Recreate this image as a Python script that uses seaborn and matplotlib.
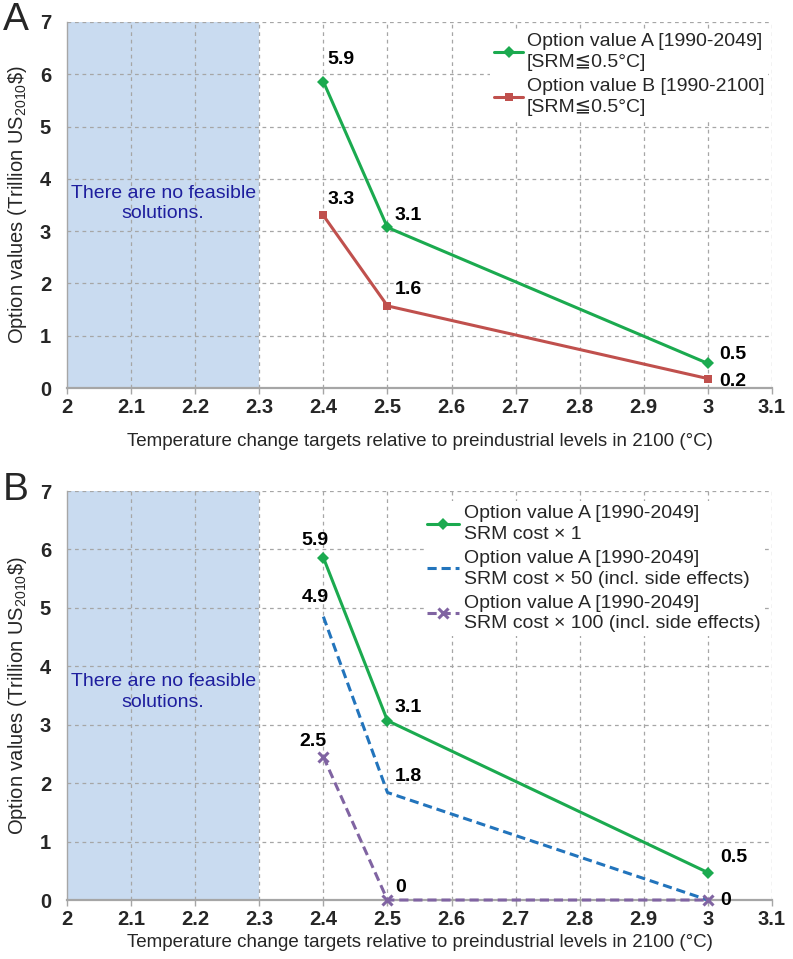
import matplotlib
matplotlib.use("Agg")
import matplotlib.pyplot as plt
import seaborn as sns

# data
temps = [2.4, 2.5, 3.0]
opt_a = [5.86, 3.07, 0.47]
opt_b = [3.30, 1.57, 0.18]
opt_a_x50 = [4.85, 1.84, 0.0]
opt_a_x100 = [2.45, 0.0, 0.0]

labels_a = ["5.9", "3.1", "0.5"]
labels_b = ["3.3", "1.6", "0.2"]
labels_x50 = ["4.9", "1.8", "0"]
labels_x100 = ["2.5", "0", "0"]

xticks = [2.0, 2.1, 2.2, 2.3, 2.4, 2.5, 2.6, 2.7, 2.8, 2.9, 3.0, 3.1]
xticklabels = ["2", "2.1", "2.2", "2.3", "2.4", "2.5", "2.6", "2.7", "2.8", "2.9", "3", "3.1"]
yticks = [0, 1, 2, 3, 4, 5, 6, 7]

sns.set_style("white")
plt.rcParams['font.family'] = ['Liberation Sans', 'DejaVu Sans']
plt.rcParams['mathtext.fontset'] = 'custom'
plt.rcParams['mathtext.rm'] = 'Liberation Sans'

GREEN = '#1BAA4F'
RED = '#C0504D'
BLUE = '#2274BC'
PURPLE = '#8064A2'
SHADE = '#C9DBF0'
GRID = '#A6A6A6'
TXTBLUE = '#1E1E9E'

fig = plt.figure(figsize=(7.93, 9.59), dpi=100)
axA = fig.add_axes([0.0845, 0.5954, 0.889, 0.3817])
axB = fig.add_axes([0.0845, 0.0615, 0.889, 0.4265])

tick_font = dict(family=['Liberation Sans Narrow', 'Liberation Sans', 'DejaVu Sans'],
                 weight='bold', size=14.5)


def style_axes(ax):
    ax.axvspan(2.0, 2.3, facecolor=SHADE, edgecolor='none', zorder=0.2, lw=0)
    ax.set_xlim(2.0, 3.1)
    ax.set_ylim(0, 7)
    ax.set_xticks(xticks)
    ax.set_xticklabels(xticklabels, **tick_font)
    ax.set_yticks(yticks)
    ax.set_yticklabels([str(v) for v in yticks], **tick_font)
    ax.grid(False)
    # dashed grid drawn at the tick positions, above the shaded band
    for x in xticks[1:]:
        ax.axvline(x, color=GRID, linestyle=(0, (3, 3)), linewidth=0.9, zorder=1.5)
    for y in yticks[1:]:
        ax.axhline(y, color=GRID, linestyle=(0, (3, 3)), linewidth=0.9, zorder=1.5)
    for s in ['top', 'right']:
        ax.spines[s].set_visible(False)
    ax.spines['left'].set_color(GRID)
    ax.spines['bottom'].set_color(GRID)
    ax.spines['bottom'].set_linewidth(1.6)
    ax.spines['left'].set_linewidth(1.0)
    ax.tick_params(axis='x', bottom=True, length=4, color=GRID, width=1, pad=3)
    ax.tick_params(axis='y', left=False, pad=8)
    ax.text(2.15, 3.88, "There are no feasible\nsolutions.", ha='center', va='top',
            color=TXTBLUE, fontsize=14, linespacing=1.25, zorder=2)
    ax.set_ylabel(r"Option values (Trillion US$_{\mathregular{2010}}$\$)", fontsize=14.5, labelpad=8)


def label_points(ax, xs, ys, texts, offsets):
    for x, y, t, (dx, dy, ha) in zip(xs, ys, texts, offsets):
        ax.annotate(t, (x, y), xytext=(dx, dy), textcoords='offset pixels',
                    ha=ha, va='center', fontsize=14, fontweight='bold', color='black')


def lift_series(ax, n_grid):
    for line in ax.get_lines()[n_grid:]:
        line.set_clip_on(False)
        line.set_zorder(3)


n_grid = len(xticks) - 1 + len(yticks) - 1

# panel A
style_axes(axA)
sns.lineplot(x=temps, y=opt_a, ax=axA, color=GREEN, marker='D', markersize=6,
             markeredgewidth=0, linewidth=2.2, label="Option value A [1990-2049]\n[SRM≦0.5°C]")
sns.lineplot(x=temps, y=opt_b, ax=axA, color=RED, marker='s', markersize=6,
             markeredgewidth=0, linewidth=2.2, label="Option value B [1990-2100]\n[SRM≦0.5°C]")
axA.set_xlabel("Temperature change targets relative to preindustrial levels in 2100 (°C)",
               fontsize=13.5, labelpad=12)
label_points(axA, temps, opt_a, labels_a, [(4, 22, 'left'), (7, 12, 'left'), (11, 9, 'left')])
label_points(axA, temps, opt_b, labels_b, [(4, 16, 'left'), (7, 16, 'left'), (11, -3, 'left')])
legA = axA.legend(loc='upper right', bbox_to_anchor=(0.995, 0.98), fontsize=14,
                  frameon=True, facecolor='white', edgecolor='none', framealpha=1,
                  handlelength=1.5, handletextpad=0.2, borderpad=0.2, labelspacing=0.35,
                  borderaxespad=0.0)
for t in legA.get_texts():
    t.set_linespacing(1.3)
lift_series(axA, n_grid)

# panel B
style_axes(axB)
sns.lineplot(x=temps, y=opt_a, ax=axB, color=GREEN, marker='D', markersize=6,
             markeredgewidth=0, linewidth=2.2, label="Option value A [1990-2049]\nSRM cost × 1")
sns.lineplot(x=temps, y=opt_a_x50, ax=axB, color=BLUE, linestyle=(0, (3, 1.6)),
             linewidth=2.2, label="Option value A [1990-2049]\nSRM cost × 50 (incl. side effects)")
sns.lineplot(x=temps, y=opt_a_x100, ax=axB, color=PURPLE, linestyle=(0, (3, 1.6)), marker='x',
             markersize=7, markeredgewidth=2.2, markeredgecolor=PURPLE, linewidth=2.2,
             label="Option value A [1990-2049]\nSRM cost × 100 (incl. side effects)")
axB.set_xlabel("Temperature change targets relative to preindustrial levels in 2100 (°C)",
               fontsize=13.5, labelpad=4)
label_points(axB, temps, opt_a, labels_a, [(-8, 17, 'center'), (7, 13, 'left'), (12, 15, 'left')])
label_points(axB, temps, opt_a_x50, labels_x50, [(-8, 19, 'center'), (7, 16, 'left'), (12, 0, 'left')])
label_points(axB, temps[:2], opt_a_x100[:2], labels_x100[:2], [(-10, 15, 'center'), (8, 13, 'left')])
legB = axB.legend(loc='upper right', bbox_to_anchor=(0.99, 0.975), fontsize=14,
                  frameon=True, facecolor='white', edgecolor='none', framealpha=1,
                  handlelength=1.6, handletextpad=0.3, borderpad=0.2, labelspacing=0.35,
                  borderaxespad=0.0)
for t in legB.get_texts():
    t.set_linespacing(1.3)
lift_series(axB, n_grid)

fig.text(0.004, 0.998, "A", fontsize=28, va='top', ha='left')
fig.text(0.004, 0.508, "B", fontsize=28, va='top', ha='left')

fig.savefig("out.png", dpi=100)
